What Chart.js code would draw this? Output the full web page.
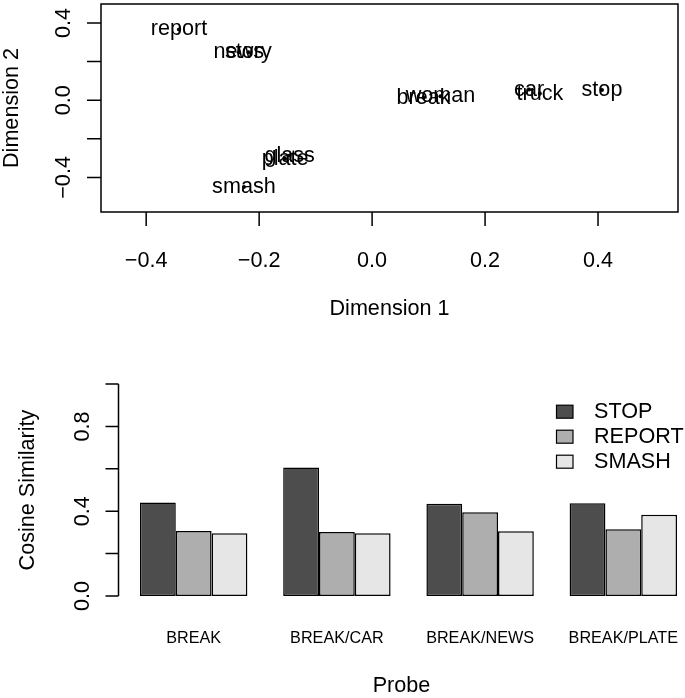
<!DOCTYPE html>
<html>
<head>
<meta charset="utf-8">
<script src="https://cdn.jsdelivr.net/npm/chart.js@4.4.0/dist/chart.umd.min.js"></script>
<style>
    html, body { margin: 0; padding: 0; background: #fff; overflow: hidden; width: 685px; height: 698px; }
    #mdsChart { position: absolute; left: 0; top: 0; }
    #simChart { position: absolute; left: 0; top: 340px; }
</style>
</head>
<body>
<canvas id="mdsChart" width="685" height="340"></canvas>
<canvas id="simChart" width="720" height="358"></canvas>
<script>
// top panel: MDS coordinates of the words
const words = ['report', 'news', 'story', 'glass', 'plate', 'smash', 'break', 'woman', 'car', 'truck', 'stop'];
const dim1 = [-0.342, -0.236, -0.219, -0.146, -0.154, -0.227, 0.091, 0.121, 0.278, 0.297, 0.407];
const dim2 = [0.366, 0.248, 0.248, -0.287, -0.303, -0.450, 0.012, 0.020, 0.055, 0.034, 0.053];
const dimTicks = [-0.4, -0.2, 0, 0.2, 0.4];
const dimYLabels = [-0.4, 0, 0.4];

// bottom panel: cosine similarity per probe
const probes = ['BREAK', 'BREAK/CAR', 'BREAK/NEWS', 'BREAK/PLATE'];
const stopSim = [0.441, 0.606, 0.435, 0.438];
const reportSim = [0.307, 0.302, 0.395, 0.315];
const smashSim = [0.296, 0.296, 0.306, 0.383];
const simTicks = [0, 0.2, 0.4, 0.6, 0.8, 1.0];
const simLabels = [0, 0.4, 0.8];

const FONT = '"Liberation Sans", Arial, Helvetica, sans-serif';
const BIG = '21.6px ' + FONT;
const SMALL = '16.2px ' + FONT;

function fmt(v) {
    return v.toFixed(1).replace('-', '\u2212');
}

function vtext(ctx, txt, x, y) {
    ctx.save();
    ctx.translate(x, y);
    ctx.rotate(-Math.PI / 2);
    ctx.textAlign = 'center';
    ctx.textBaseline = 'alphabetic';
    ctx.fillText(txt, 0, 0);
    ctx.restore();
}

const mdsAxes = {
    id: 'mdsAxes',
    afterDraw(chart) {
        const ctx = chart.ctx;
        const a = chart.chartArea;
        const xs = chart.scales.x, ys = chart.scales.y;
        ctx.save();
        ctx.strokeStyle = '#000';
        ctx.fillStyle = '#000';
        ctx.lineWidth = 1.5;
        ctx.strokeRect(a.left, a.top, a.right - a.left, a.bottom - a.top);
        ctx.beginPath();
        dimTicks.forEach(v => {
            const px = xs.getPixelForValue(v);
            ctx.moveTo(px, a.bottom); ctx.lineTo(px, a.bottom + 14);
            const py = ys.getPixelForValue(v);
            ctx.moveTo(a.left, py); ctx.lineTo(a.left - 14, py);
        });
        ctx.stroke();
        ctx.font = BIG;
        ctx.textAlign = 'center';
        ctx.textBaseline = 'alphabetic';
        dimTicks.forEach(v => ctx.fillText(fmt(v), xs.getPixelForValue(v), a.bottom + 55));
        dimYLabels.forEach(v => vtext(ctx, fmt(v), a.left - 31, ys.getPixelForValue(v)));
        ctx.fillText('Dimension 1', (a.left + a.right) / 2, a.bottom + 103);
        vtext(ctx, 'Dimension 2', a.left - 83.5, (a.top + a.bottom) / 2);
        ctx.restore();
    }
};

const wordLabels = {
    id: 'wordLabels',
    afterDatasetsDraw(chart) {
        const ctx = chart.ctx;
        const xs = chart.scales.x, ys = chart.scales.y;
        ctx.save();
        ctx.font = BIG;
        ctx.fillStyle = '#000';
        ctx.textAlign = 'center';
        ctx.textBaseline = 'middle';
        words.forEach((w, i) => ctx.fillText(w, xs.getPixelForValue(dim1[i]), ys.getPixelForValue(dim2[i])));
        ctx.restore();
    }
};

new Chart(document.getElementById('mdsChart').getContext('2d'), {
    type: 'scatter',
    data: {
        datasets: [{
            data: words.map((w, i) => ({ x: dim1[i], y: dim2[i] })),
            pointRadius: 2,
            backgroundColor: '#000',
            borderWidth: 0
        }]
    },
    options: {
        responsive: false,
        animation: false,
        layout: { padding: { left: 101, right: 7, top: 1, bottom: 128 } },
        plugins: { legend: { display: false }, tooltip: { enabled: false } },
        scales: {
            x: { type: 'linear', display: false, min: -0.48, max: 0.5416 },
            y: { type: 'linear', display: false, min: -0.579, max: 0.498 }
        }
    },
    plugins: [mdsAxes, wordLabels]
});

function simDataset(label, values, color) {
    return {
        label: label,
        data: values.map((v, i) => ({ x: i, y: v })),
        backgroundColor: color,
        borderColor: '#000',
        borderWidth: 1.5,
        borderSkipped: false,
        categoryPercentage: 0.75,
        barPercentage: 1
    };
}

const simAxes = {
    id: 'simAxes',
    afterDraw(chart) {
        const ctx = chart.ctx;
        const a = chart.chartArea;
        const xs = chart.scales.x, ys = chart.scales.y;
        ctx.save();
        ctx.strokeStyle = '#000';
        ctx.fillStyle = '#000';
        ctx.lineWidth = 1.5;
        ctx.beginPath();
        ctx.moveTo(a.left, ys.getPixelForValue(simTicks[0]));
        ctx.lineTo(a.left, ys.getPixelForValue(simTicks[simTicks.length - 1]));
        simTicks.forEach(v => {
            const py = ys.getPixelForValue(v);
            ctx.moveTo(a.left, py); ctx.lineTo(a.left - 13, py);
        });
        ctx.stroke();
        ctx.font = BIG;
        simLabels.forEach(v => vtext(ctx, fmt(v), a.left - 29.5, ys.getPixelForValue(v)));
        vtext(ctx, 'Cosine Similarity', a.left - 85, (a.top + a.bottom) / 2);
        ctx.textAlign = 'center';
        ctx.textBaseline = 'alphabetic';
        ctx.fillText('Probe', (a.left + a.right) / 2 - 7, a.bottom + 87);
        ctx.font = SMALL;
        probes.forEach((p, i) => ctx.fillText(p, xs.getPixelForValue(i), a.bottom + 38));

        // legend, top right inside the plot
        ctx.font = BIG;
        ctx.textAlign = 'left';
        ctx.textBaseline = 'middle';
        ctx.lineWidth = 1.2;
        chart.data.datasets.forEach((ds, k) => {
            const cy = a.top + 36.2 + k * 25;
            ctx.fillStyle = ds.backgroundColor;
            ctx.fillRect(a.right - 142, cy - 6.5, 16.5, 13);
            ctx.strokeRect(a.right - 142, cy - 6.5, 16.5, 13);
            ctx.fillStyle = '#000';
            ctx.fillText(ds.label, a.right - 104.5, cy);
        });
        ctx.restore();
    }
};

new Chart(document.getElementById('simChart').getContext('2d'), {
    type: 'bar',
    data: {
        datasets: [
            simDataset('STOP', stopSim, '#4D4D4D'),
            simDataset('REPORT', reportSim, '#AEAEAE'),
            simDataset('SMASH', smashSim, '#E6E6E6')
        ]
    },
    options: {
        responsive: false,
        animation: false,
        layout: { padding: { left: 118.5, right: 21.5, top: 35.5, bottom: 93.5 } },
        plugins: { legend: { display: false }, tooltip: { enabled: false } },
        scales: {
            x: {
                type: 'linear',
                display: false,
                offset: false,
                min: -0.525,
                max: 3.525,
                afterBuildTicks: function(scale) {
                    scale.ticks = probes.map((p, i) => ({ value: i }));
                }
            },
            y: { type: 'linear', display: false, min: -0.04, max: 1.04 }
        }
    },
    plugins: [simAxes]
});
</script>
</body>
</html>
